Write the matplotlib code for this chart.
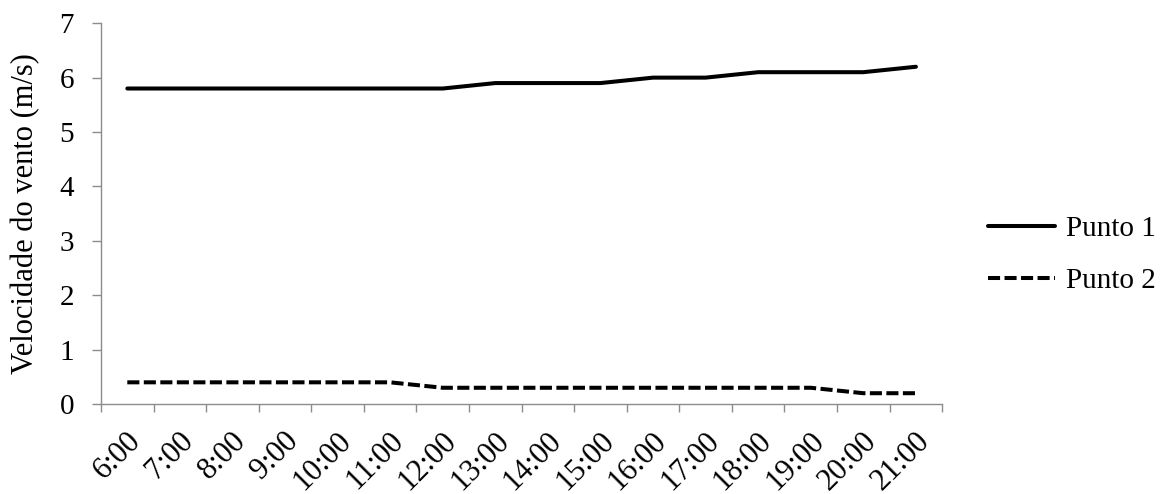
import matplotlib
matplotlib.use("Agg")
import matplotlib.pyplot as plt
import matplotlib.transforms as mtransforms
import numpy as np

plt.rcParams['font.family'] = ['Liberation Serif', 'DejaVu Serif']

horas = ['6:00', '7:00', '8:00', '9:00', '10:00', '11:00', '12:00', '13:00',
         '14:00', '15:00', '16:00', '17:00', '18:00', '19:00', '20:00', '21:00']
punto1 = [5.8, 5.8, 5.8, 5.8, 5.8, 5.8, 5.8, 5.9,
          5.9, 5.9, 6.0, 6.0, 6.1, 6.1, 6.1, 6.2]
punto2 = [0.4, 0.4, 0.4, 0.4, 0.4, 0.4, 0.3, 0.3,
          0.3, 0.3, 0.3, 0.3, 0.3, 0.3, 0.2, 0.2]

gris = '#8c8c8c'

fig = plt.figure(figsize=(11.69, 4.94), dpi=100)
ax = fig.add_axes([0.0864, 0.182, 0.7196, 0.771])

x = np.arange(len(horas))
ax.plot(x, punto1, color='black', lw=2.9, solid_capstyle='round', label='Punto 1')
ax.plot(x, punto2, color='black', lw=2.9, dashes=(3.0, 1.1), label='Punto 2')

ax.set_xlim(-0.5, len(horas) - 0.5)
ax.set_ylim(0, 7)
ax.set_yticks(range(0, 8))
ax.tick_params(axis='y', labelsize=21, length=6.5, width=1, color=gris, pad=13)

ax.set_xticks(x)
ax.set_xticklabels(horas, rotation=45, ha='right', va='top', rotation_mode='anchor', fontsize=22)
ax.tick_params(axis='x', which='major', length=0, pad=16)
shift = mtransforms.ScaledTranslation(-1 / 100, 0, fig.dpi_scale_trans)
for lab in ax.get_xticklabels():
    lab.set_transform(lab.get_transform() + shift)
ax.set_xticks(np.arange(-0.5, len(horas), 1), minor=True)
ax.tick_params(axis='x', which='minor', length=6, width=1, color=gris)

for s in ['top', 'right']:
    ax.spines[s].set_visible(False)
for s in ['left', 'bottom']:
    ax.spines[s].set_color(gris)
    ax.spines[s].set_linewidth(1)

ax.set_ylabel('Velocidade do vento (m/s)', fontsize=22, labelpad=14)

ax.legend(loc='center left', bbox_to_anchor=(1.0547, 0.392), frameon=False, fontsize=21,
          borderaxespad=0, borderpad=0,
          handlelength=2.3, handletextpad=0.35, labelspacing=0.88)

fig.savefig('out.png', dpi=100)
